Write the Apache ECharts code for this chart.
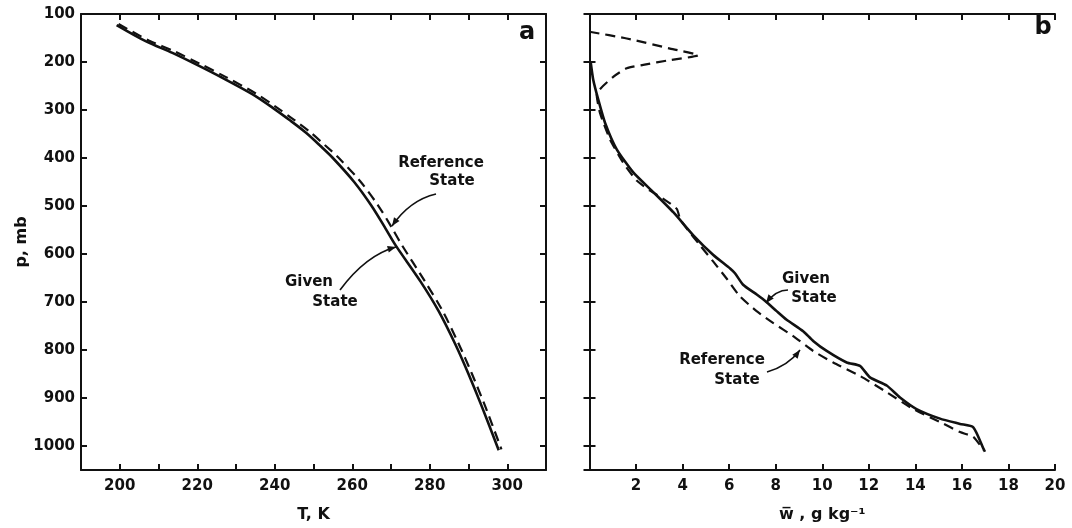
<!DOCTYPE html>
<html><head><meta charset="utf-8">
<script src="https://cdn.jsdelivr.net/npm/echarts@6/dist/echarts.min.js"></script>
<style>html,body{margin:0;padding:0;background:#fff}#c{width:1072px;height:528px}</style>
</head><body><div id="c"></div>
<script>
// Panel a: temperature (K) vs pressure (mb)
const aGivenT = [199.2, 206.8, 213.6, 219.7, 226.5, 234.2, 239.4, 244.0, 248.0, 251.8, 255.0, 260.5, 265.0, 268.6, 271.2, 277.6, 282.3, 286.6, 290.0, 293.5, 297.8];
const aGivenP = [123, 157, 181, 205, 233, 267, 295, 322, 347, 375, 400, 450, 500, 547, 582, 657, 719, 788, 850, 919, 1009];
const aRefT = [199.7, 207.5, 214.4, 220.5, 227.3, 235.0, 240.2, 244.9, 249.0, 252.9, 256.3, 262.0, 266.6, 270.2, 272.7, 278.6, 283.2, 287.4, 290.8, 294.3, 298.5];
const aRefP = [121, 155, 179, 203, 231, 265, 293, 320, 345, 373, 398, 448, 498, 545, 580, 655, 717, 786, 848, 917, 1007];
// Panel b: mixing ratio (g/kg) vs pressure (mb)
const bGivenW = [0.05, 0.16, 0.38, 0.67, 1.17, 1.88, 2.74, 3.6, 4.46, 5.32, 6.04, 6.25, 6.6, 7.2, 7.6, 8.04, 8.47, 9.18, 9.61, 10.19, 11.05, 11.62, 12.05, 12.77, 13.34, 14.05, 15.06, 15.92, 16.49, 16.92, 16.99];
const bGivenP = [200, 237, 279, 327, 382, 430, 471, 513, 561, 602, 630, 640, 664, 685, 700, 719, 737, 761, 781, 802, 826, 833, 857, 874, 899, 923, 943, 954, 961, 1005, 1012];
const bRefW = [0.0, 1.6, 3.46, 4.67, 3.46, 2.31, 1.6, 1.02, 0.31, 0.45, 0.88, 1.45, 2.03, 2.6, 3.17, 3.75, 3.89, 4.18, 4.75, 5.32, 5.89, 6.46, 7.18, 7.9, 8.75, 9.61, 10.47, 11.62, 12.77, 13.91, 15.06, 15.92, 16.49, 16.92];
const bRefP = [137, 151, 172, 186, 196, 206, 213, 231, 268, 306, 361, 410, 447, 468, 485, 506, 527, 547, 582, 616, 651, 688, 719, 744, 771, 802, 826, 854, 888, 923, 950, 971, 981, 1008];
const pTicks = [100, 200, 300, 400, 500, 600, 700, 800, 900, 1000];

const zip = (xs, ys) => xs.map((x, i) => [x, ys[i]]);
const FONT = 'DejaVu Sans';
const INK = '#111';
const tickStyle = { show: true, inside: true, length: 6, lineStyle: { color: INK, width: 2 } };
const lineAx = { show: true, lineStyle: { color: INK, width: 2 } };
const lbl = { color: INK, fontFamily: FONT, fontWeight: 'bold', fontSize: 15 };

function xAx(grid, pos, min, max, interval, labels, fmt, name) {
  return {
    type: 'value', gridIndex: grid, position: pos, min, max, interval,
    axisLine: lineAx, axisTick: tickStyle, splitLine: { show: false },
    axisLabel: labels ? Object.assign({ margin: 9, formatter: fmt }, lbl) : { show: false },
    name: name || '', nameLocation: 'middle', nameGap: 37,
    nameTextStyle: { color: INK, fontFamily: FONT, fontWeight: 'bold', fontSize: 16 }
  };
}
function yAx(grid, pos, labels, name) {
  return {
    type: 'value', gridIndex: grid, position: pos, inverse: true, min: 100, max: 1050, interval: 100,
    axisLine: lineAx, axisTick: tickStyle, splitLine: { show: false },
    axisLabel: labels ? Object.assign({ margin: 6, formatter: v => pTicks.includes(v) ? String(v) : '' }, lbl) : { show: false },
    name: name || '', nameLocation: 'middle', nameGap: 45, nameRotate: 90,
    nameTextStyle: { color: INK, fontFamily: FONT, fontWeight: 'bold', fontSize: 16 }
  };
}

const chart = echarts.init(document.getElementById('c'), null, { renderer: 'canvas' });
const solid = { color: INK, width: 2.6, type: 'solid' };
const dashed = { color: INK, width: 2.2, type: [10, 6] };
chart.setOption({
  animation: false,
  backgroundColor: '#fff',
  grid: [
    { left: 81, top: 14, width: 465, height: 459 },
    { left: 589.5, top: 14, width: 465.5, height: 459 }
  ],
  xAxis: [
    xAx(0, 'bottom', 190, 310, 10, true, v => (v % 20 === 0 && v > 190 && v < 310) ? String(v) : '', 'T, K'),
    xAx(0, 'top', 190, 310, 10, false),
    xAx(1, 'bottom', 0, 20, 2, true, v => v > 0 ? String(v) : '', 'w\u0305 , g kg\u207B\u00B9'),
    xAx(1, 'top', 0, 20, 2, false)
  ],
  yAxis: [
    yAx(0, 'left', true, 'p, mb'),
    yAx(0, 'right', false),
    yAx(1, 'left', false),
    yAx(1, 'right', false)
  ],
  series: [
    { type: 'line', xAxisIndex: 0, yAxisIndex: 0, data: zip(aRefT, aRefP), showSymbol: false, smooth: 0.3, lineStyle: dashed, silent: true },
    { type: 'line', xAxisIndex: 0, yAxisIndex: 0, data: zip(aGivenT, aGivenP), showSymbol: false, smooth: 0.3, lineStyle: solid, silent: true },
    { type: 'line', xAxisIndex: 2, yAxisIndex: 2, data: zip(bRefW, bRefP), showSymbol: false, smooth: 0.2, lineStyle: dashed, silent: true },
    { type: 'line', xAxisIndex: 2, yAxisIndex: 2, data: zip(bGivenW, bGivenP), showSymbol: false, smooth: 0.2, lineStyle: solid, silent: true }
  ]
});

function txt(x, y, s, size) {
  return { type: 'text', x, y, style: { text: s, fill: INK, font: 'bold ' + (size || 15) + 'px "' + FONT + '"', align: 'center', verticalAlign: 'middle' } };
}
function arrow(x0, y0, cx, cy, x1, y1) {
  const a = Math.atan2(y1 - cy, x1 - cx), L = 9, s = 0.38;
  return [
    { type: 'bezierCurve', shape: { x1: x0, y1: y0, cpx1: cx, cpy1: cy, x2: x1, y2: y1 }, style: { stroke: INK, lineWidth: 1.6, fill: null } },
    { type: 'polygon', shape: { points: [[x1, y1], [x1 - L * Math.cos(a - s), y1 - L * Math.sin(a - s)], [x1 - L * Math.cos(a + s), y1 - L * Math.sin(a + s)]] }, style: { fill: INK } }
  ];
}
chart.setOption({
  graphic: [
    txt(527, 33, 'a', 24), txt(1043, 28, 'b', 24),
    txt(441, 163, 'Reference'), txt(452, 181, 'State'),
    ...arrow(436, 194, 410, 200, 392, 226),
    txt(309, 282, 'Given'), txt(335, 302, 'State'),
    ...arrow(340, 290, 366, 255, 396, 247),
    txt(806, 279, 'Given'), txt(814, 298, 'State'),
    ...arrow(788, 290, 776, 290, 766, 303),
    txt(722, 360, 'Reference'), txt(737, 380, 'State'),
    ...arrow(767, 372, 788, 366, 800, 350)
  ]
});
</script>
</body></html>
